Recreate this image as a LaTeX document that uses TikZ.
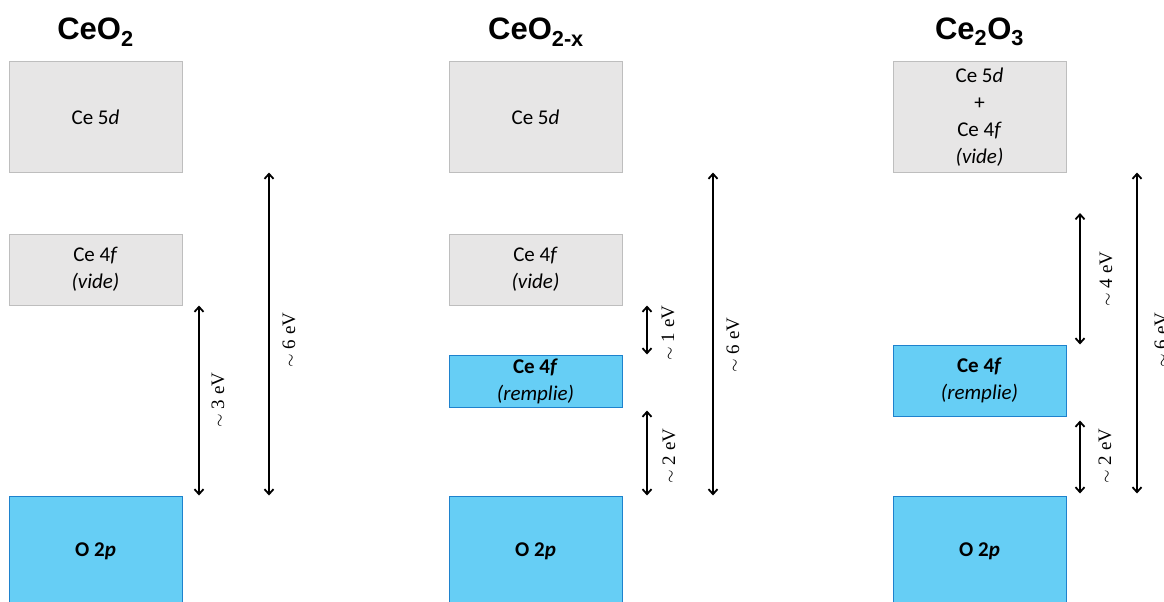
\documentclass[tikz,border=0pt]{standalone}
\usepackage{fontspec}
\setmainfont{Carlito}
\newfontfamily\titlefont{Liberation Sans}
\newfontfamily\labfont{Liberation Serif}
\usetikzlibrary{arrows.meta}
\definecolor{greyfill}{RGB}{231,230,230}
\definecolor{greyline}{RGB}{190,190,190}
\definecolor{bluefill}{RGB}{102,206,245}
\definecolor{blueline}{RGB}{30,130,205}
\tikzset{
  band/.style={minimum width=173pt, inner sep=0pt, align=center, font=\fontsize{21}{27}\selectfont, line width=1pt},
  empty/.style={band, draw=greyline, fill=greyfill},
  full/.style={band, draw=blueline, fill=bluefill},
  gap/.style={line width=1.8pt, {Straight Barb[length=5pt,width=9pt]}-{Straight Barb[length=5pt,width=9pt]}},
  gaplabel/.style={rotate=90, font=\labfont\fontsize{19}{22}\selectfont, inner sep=0pt},
  title/.style={font=\titlefont\bfseries\fontsize{31}{34}\selectfont, inner sep=0pt}
}
\begin{document}
\begin{tikzpicture}[x=1pt,y=-1pt]
\useasboundingbox (0,0) rectangle (1164,602);
\clip (0,0) rectangle (1164,602);
% titles
\node[title] (t1) at (95.5,32) {CeO\textsubscript{2}};
\node[title] (t2) at (536,32) {CeO\textsubscript{2-x}};
\node[title] (t3) at (979.5,32) {Ce\textsubscript{2}O\textsubscript{3}};
% column 1
\node[empty, minimum height=110pt] (a5d) at (95.5,117) {Ce 5\textit{d}};
\node[empty, minimum height=71pt] (a4f) at (95.5,269.5) {Ce 4\textit{f}\\\textit{(vide)}};
\node[full, minimum height=110pt] (ao) at (95.5,551) {\textbf{O 2\textit{p}}};
\coordinate (ax1) at (199,0);
\coordinate (ax2) at (269,0);
\draw[gap] (ax1 |- a4f.south) -- (ax1 |- ao.north);
\draw[gap] (ax2 |- a5d.south) -- (ax2 |- ao.north);
\node[gaplabel] (al1) at (218,400) {$\sim$ 3 eV};
\node[gaplabel] (al2) at (289,340) {$\sim$ 6 eV};
% column 2
\node[empty, minimum height=110pt] (b5d) at (535.5,117) {Ce 5\textit{d}};
\node[empty, minimum height=71pt] (b4f) at (535.5,269.5) {Ce 4\textit{f}\\\textit{(vide)}};
\node[full, minimum height=52pt] (b4ff) at (535.5,381) {\textbf{Ce 4\textit{f}}\\\textit{(remplie)}};
\node[full, minimum height=110pt] (bo) at (535.5,551) {\textbf{O 2\textit{p}}};
\coordinate (bx1) at (647,0);
\coordinate (bx2) at (713,0);
\draw[gap] (bx1 |- b4f.south) -- (bx1 |- b4ff.north);
\draw[gap] ([yshift=-3pt]bx1 |- b4ff.south) -- (bx1 |- bo.north);
\draw[gap] (bx2 |- b5d.south) -- (bx2 |- bo.north);
\node[gaplabel] (bl1) at (668,333) {$\sim$ 1 eV};
\node[gaplabel] (bl2) at (669,456) {$\sim$ 2 eV};
\node[gaplabel] (bl3) at (733,345) {$\sim$ 6 eV};
% column 3
\node[empty, minimum height=110pt] (c5d) at (979.5,117) {Ce 5\textit{d}\\+\\Ce 4\textit{f}\\\textit{(vide)}};
\node[full, minimum height=71pt] (c4ff) at (979.5,380.5) {\textbf{Ce 4\textit{f}}\\\textit{(remplie)}};
\node[full, minimum height=110pt] (co) at (979.5,551) {\textbf{O 2\textit{p}}};
\coordinate (cx1) at (1080,0);
\coordinate (cx2) at (1137,0);
\coordinate (ctop) at (1080,213);
\draw[gap] (ctop) -- (cx1 |- c4ff.north);
\draw[gap] ([yshift=-4pt]cx1 |- c4ff.south) -- ([yshift=2pt]cx1 |- co.north);
\draw[gap] (cx2 |- c5d.south) -- ([yshift=2pt]cx2 |- co.north);
\node[gaplabel] (cl1) at (1106,279) {$\sim$ 4 eV};
\node[gaplabel] (cl2) at (1105,456) {$\sim$ 2 eV};
\node[gaplabel] (cl3) at (1161,340) {$\sim$ 6 eV};
\end{tikzpicture}
\end{document}
